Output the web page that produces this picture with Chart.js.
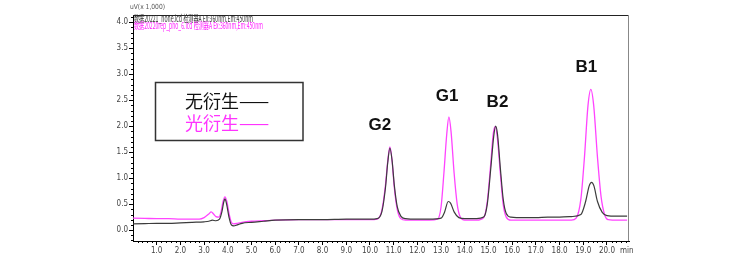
<!DOCTYPE html>
<html>
<head>
<meta charset="utf-8">
<script src="https://cdn.jsdelivr.net/npm/chart.js@4/dist/chart.umd.min.js"></script>
<style>
  html, body { margin: 0; padding: 0; background: #fff; }
  #chrom { display: block; }
</style>
</head>
<body>
<canvas id="chrom" width="756" height="257"></canvas>
<script>
// 无衍生 (black trace)
const blackTime  = [0.0, 0.5, 1.0, 1.5, 2.0, 2.5, 3.0, 3.2, 3.35, 3.5, 3.65, 3.75, 3.82, 3.88, 3.95, 4.05, 4.15, 4.25, 4.4, 4.6, 5.0, 5.5, 6.0, 7.0, 8.0, 9.0, 10.0,
  10.3, 10.5, 10.65, 10.75, 10.84, 10.93, 11.03, 11.15, 11.3, 11.5, 12.0, 12.5, 13.0, 13.15, 13.3, 13.4, 13.55, 13.75, 14.0, 14.5,
  14.8, 14.95, 15.1, 15.22, 15.3, 15.38, 15.5, 15.62, 15.75, 15.95, 16.5, 17.0, 17.5, 18.0, 18.5, 18.9, 19.1, 19.25, 19.35, 19.45, 19.6, 19.8, 20.0, 20.4, 20.85];
const blackValue = [0.12, 0.125, 0.13, 0.13, 0.14, 0.15, 0.16, 0.17, 0.19, 0.18, 0.21, 0.35, 0.52, 0.60, 0.50, 0.25, 0.10, 0.08, 0.10, 0.13, 0.15, 0.17, 0.19, 0.20, 0.20, 0.21, 0.21,
  0.22, 0.35, 0.80, 1.30, 1.58, 1.35, 0.85, 0.45, 0.27, 0.22, 0.21, 0.21, 0.23, 0.35, 0.55, 0.52, 0.35, 0.24, 0.22, 0.22,
  0.25, 0.50, 1.20, 1.80, 2.00, 1.85, 1.20, 0.60, 0.32, 0.25, 0.24, 0.24, 0.25, 0.25, 0.26, 0.30, 0.55, 0.85, 0.92, 0.85, 0.55, 0.34, 0.28, 0.27, 0.27];

// 光衍生 (magenta trace)
const pinkTime  = [0.0, 0.5, 1.0, 1.5, 2.0, 2.5, 2.8, 3.0, 3.2, 3.3, 3.4, 3.5, 3.62, 3.72, 3.8, 3.88, 3.96, 4.06, 4.15, 4.25, 4.4, 4.6, 5.0, 5.5, 6.0, 7.0, 8.0, 9.0, 10.0,
  10.3, 10.5, 10.65, 10.75, 10.84, 10.93, 11.03, 11.15, 11.3, 11.5, 12.0, 12.5, 12.85, 13.0, 13.12, 13.24, 13.33, 13.42, 13.55, 13.68, 13.8, 14.0, 14.5,
  14.8, 14.95, 15.1, 15.2, 15.28, 15.37, 15.5, 15.62, 15.75, 15.95, 16.5, 17.0, 17.5, 18.0, 18.5, 18.7, 18.9, 19.05, 19.2, 19.32, 19.44, 19.6, 19.75, 19.9, 20.05, 20.5, 20.85];
const pinkValue = [0.23, 0.225, 0.22, 0.22, 0.21, 0.21, 0.21, 0.24, 0.31, 0.35, 0.31, 0.26, 0.25, 0.36, 0.55, 0.64, 0.55, 0.30, 0.15, 0.12, 0.13, 0.15, 0.17, 0.18, 0.19, 0.20, 0.20, 0.20, 0.20,
  0.21, 0.38, 0.85, 1.33, 1.60, 1.35, 0.80, 0.40, 0.22, 0.19, 0.19, 0.19, 0.21, 0.45, 1.10, 1.85, 2.18, 1.90, 1.10, 0.50, 0.26, 0.19, 0.19,
  0.24, 0.55, 1.30, 1.85, 1.99, 1.80, 1.10, 0.50, 0.25, 0.19, 0.19, 0.19, 0.19, 0.19, 0.19, 0.23, 0.60, 1.40, 2.40, 2.71, 2.40, 1.40, 0.65, 0.30, 0.20, 0.19, 0.19];

const seriesNames = ['无衍生', '光衍生'];
const headerLines = ['数据20221_none.lcd 检测器A Ex:360nm,Em:450nm', '数据20220rep_pho_6.lcd 检测器A Ex:360nm,Em:450nm'];

// peak names and where they sit (minutes, uV x1000)
const peakLabels = ['G2', 'G1', 'B2', 'B1'];
const peakLabelTime = [10.42, 13.25, 15.38, 19.13];
const peakLabelValue = [2.02, 2.58, 2.46, 3.14];

const xTickValues = [1, 2, 3, 4, 5, 6, 7, 8, 9, 10, 11, 12, 13, 14, 15, 16, 17, 18, 19, 20];
const yTickValues = [0, 0.5, 1, 1.5, 2, 2.5, 3, 3.5, 4];

const BLACK = '#3c3c3c';
const PINK = '#ff44ff';
const tickFont = { family: "'Liberation Sans Narrow', 'DejaVu Sans Condensed', 'Liberation Sans', sans-serif", size: 8 };

const toPoints = (xs, ys) => xs.map((x, i) => ({ x: x, y: ys[i] }));

const extras = {
  id: 'extras',
  afterDraw(chart) {
    const ctx = chart.ctx;
    const xs = chart.scales.x, ys = chart.scales.y;
    const a = chart.chartArea;
    ctx.save();

    // minor ticks
    ctx.strokeStyle = '#000';
    ctx.lineWidth = 1;
    ctx.beginPath();
    for (let v = 0.2; v < xs.max; v += 0.2) {
      if (Math.abs(v - Math.round(v)) < 0.01) continue;
      const px = Math.round(xs.getPixelForValue(v)) + 0.5;
      ctx.moveTo(px, a.bottom);
      ctx.lineTo(px, a.bottom + 2);
    }
    for (let v = -0.2; v < ys.max; v += 0.1) {
      if (Math.abs(v * 2 - Math.round(v * 2)) < 0.01) continue;
      const py = Math.round(ys.getPixelForValue(v)) + 0.5;
      ctx.moveTo(a.left - 2, py);
      ctx.lineTo(a.left, py);
    }
    ctx.stroke();

    // top and right frame
    ctx.beginPath();
    ctx.strokeStyle = '#222';
    ctx.moveTo(a.left, a.top + 0.5);
    ctx.lineTo(a.right, a.top + 0.5);
    ctx.stroke();
    ctx.beginPath();
    ctx.strokeStyle = '#888';
    ctx.moveTo(a.right - 0.5, a.top);
    ctx.lineTo(a.right - 0.5, a.bottom);
    ctx.stroke();

    // unit and file headers
    ctx.textBaseline = 'middle';
    ctx.textAlign = 'left';
    ctx.fillStyle = '#555';
    ctx.font = "7px 'Liberation Sans Narrow', 'DejaVu Sans Condensed', sans-serif";
    ctx.fillText('uV(x 1,000)', 130, 7, 35);
    ctx.font = "9.5px 'Noto Sans CJK SC', 'Liberation Sans Narrow', sans-serif";
    ctx.fillStyle = '#333';
    ctx.fillText(headerLines[0], 134, 18, 119);
    ctx.fillStyle = '#ff22ff';
    ctx.fillText(headerLines[1], 134, 25.5, 129);

    // "min" unit on x axis
    ctx.fillStyle = '#444';
    ctx.font = "8px 'Liberation Sans Narrow', 'DejaVu Sans Condensed', sans-serif";
    ctx.fillText('min', 620, 251);

    // legend box
    ctx.strokeStyle = '#333';
    ctx.lineWidth = 1.5;
    ctx.strokeRect(155.5, 82.5, 147.5, 58);
    ctx.font = "18px 'Noto Sans CJK SC', sans-serif";
    ctx.fillStyle = '#111';
    ctx.fillText(seriesNames[0] + '——', 185, 101);
    ctx.fillStyle = '#ff33ff';
    ctx.fillText(seriesNames[1] + '——', 185, 123.5);

    // peak names
    ctx.font = "bold 17px 'Liberation Sans', Arial, sans-serif";
    ctx.fillStyle = '#111';
    ctx.textAlign = 'center';
    peakLabels.forEach((lab, i) => {
      ctx.fillText(lab, xs.getPixelForValue(peakLabelTime[i]), ys.getPixelForValue(peakLabelValue[i]));
    });
    ctx.restore();
  }
};

new Chart(document.getElementById('chrom').getContext('2d'), {
  type: 'line',
  data: {
    datasets: [{
      label: seriesNames[0],
      data: toPoints(blackTime, blackValue),
      borderColor: BLACK,
      borderWidth: 1.2,
      pointRadius: 0,
      cubicInterpolationMode: 'monotone',
      fill: false
    }, {
      label: seriesNames[1],
      data: toPoints(pinkTime, pinkValue),
      borderColor: PINK,
      borderWidth: 1.3,
      pointRadius: 0,
      cubicInterpolationMode: 'monotone',
      fill: false
    }]
  },
  options: {
    responsive: false,
    devicePixelRatio: 1,
    animation: false,
    layout: { padding: { top: 15, right: 127, left: 0, bottom: 0 } },
    plugins: { legend: { display: false }, tooltip: { enabled: false } },
    scales: {
      x: {
        type: 'linear',
        min: 0,
        max: 20.93,
        afterBuildTicks: s => { s.ticks = xTickValues.map(v => ({ value: v })); },
        afterFit: s => { s.height = 16; },
        grid: { drawOnChartArea: false, drawTicks: true, tickLength: 4, color: '#000' },
        border: { display: true, color: '#000', width: 1 },
        ticks: {
          padding: 1,
          color: '#444',
          font: tickFont,
          maxRotation: 0,
          autoSkip: false,
          callback: v => Number(v).toFixed(1)
        }
      },
      y: {
        type: 'linear',
        min: -0.21,
        max: 4.14,
        afterBuildTicks: s => { s.ticks = yTickValues.map(v => ({ value: v })); },
        afterFit: s => { s.width = 133; },
        grid: { drawOnChartArea: false, drawTicks: true, tickLength: 4, color: '#000' },
        border: { display: true, color: '#000', width: 1 },
        ticks: {
          padding: 1,
          color: '#444',
          font: tickFont,
          autoSkip: false,
          callback: v => Number(v).toFixed(1)
        }
      }
    }
  },
  plugins: [extras]
});
</script>
</body>
</html>
